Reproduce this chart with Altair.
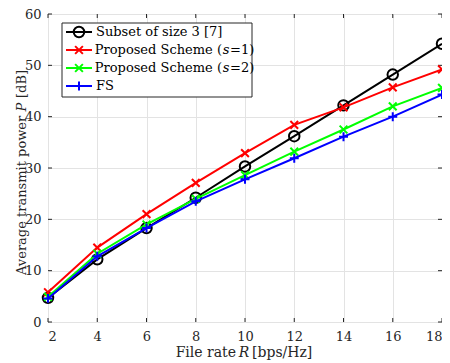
import altair as alt
import pandas as pd

rates = [2, 4, 6, 8, 10, 12, 14, 16, 18]
subset3 = [4.7, 12.2, 18.3, 24.2, 30.3, 36.2, 42.2, 48.2, 54.2]
prop_s1 = [5.8, 14.5, 21.0, 27.1, 32.9, 38.4, 41.8, 45.7, 49.2]
prop_s2 = [4.9, 13.3, 19.0, 24.0, 28.6, 33.2, 37.5, 42.0, 45.6]
fs_vals = [4.6, 12.8, 18.3, 23.5, 27.8, 31.9, 36.1, 40.0, 44.3]

series_names = ["Subset of size 3 [7]", "Proposed Scheme (s=1)", "Proposed Scheme (s=2)", "FS"]
series_vals = [subset3, prop_s1, prop_s2, fs_vals]
colors = ["#000000", "#ff0000", "#00ff00", "#0000ff"]
x_ticks = [2, 4, 6, 8, 10, 12, 14, 16, 18]
y_ticks = [0, 10, 20, 30, 40, 50, 60]

W, H = 394, 308
FONT = "DejaVu Serif"
TXT = "#262626"

XMARK = "M-1,-1L1,1M-1,1L1,-1"
PLUS = "M-1,0L1,0M0,-1L0,1"
shapes = ["circle", XMARK, XMARK, PLUS]
sizes = [110, 60, 60, 80]

xs = alt.Scale(domain=[2, 18], nice=False, zero=False)
ys = alt.Scale(domain=[0, 60], nice=False)

x_axis = alt.Axis(values=x_ticks, title=None, grid=True, gridColor="#e3e3e3", domain=False,
                  ticks=False, labelFont=FONT, labelFontSize=13, labelColor=TXT, labelPadding=8)
y_axis = alt.Axis(values=y_ticks, title=None, grid=True, gridColor="#e3e3e3", domain=False,
                  ticks=False, labelFont=FONT, labelFontSize=13, labelColor=TXT, labelPadding=7)

layers = []
# inner tick marks
tick_x = pd.DataFrame({"t": x_ticks})
tick_y = pd.DataFrame({"t": y_ticks})
layers.append(alt.Chart(tick_x).mark_rule(color=TXT, strokeWidth=1).encode(
    x=alt.X("t:Q", scale=xs, axis=x_axis), y=alt.value(H), y2=alt.value(H - 4)))
layers.append(alt.Chart(tick_x).mark_rule(color=TXT, strokeWidth=1).encode(
    x=alt.X("t:Q", scale=xs), y=alt.value(0), y2=alt.value(4)))
layers.append(alt.Chart(tick_y).mark_rule(color=TXT, strokeWidth=1).encode(
    y=alt.Y("t:Q", scale=ys, axis=y_axis), x=alt.value(0), x2=alt.value(4)))
layers.append(alt.Chart(tick_y).mark_rule(color=TXT, strokeWidth=1).encode(
    y=alt.Y("t:Q", scale=ys), x=alt.value(W), x2=alt.value(W - 4)))

for name, vals, col, shp, sz in zip(series_names, series_vals, colors, shapes, sizes):
    df = pd.DataFrame({"R": rates, "P": vals})
    base = alt.Chart(df).encode(x=alt.X("R:Q", scale=xs), y=alt.Y("P:Q", scale=ys))
    layers.append(base.mark_line(color=col, strokeWidth=2))
    layers.append(base.mark_point(shape=shp, size=sz, color=col, filled=False, strokeWidth=2, opacity=1))

one = alt.Data(values=[{}])


def txt(text, x, y, size=13, align="left", italic=False, angle=0, baseline="middle", color="#000"):
    kw = dict(text=text, font=FONT, fontSize=size, color=color, align=align, baseline=baseline)
    if italic:
        kw["fontStyle"] = "italic"
    if angle:
        kw["angle"] = angle
    return alt.Chart(one).mark_text(**kw).encode(x=alt.value(x), y=alt.value(y))


# legend box
layers.append(alt.Chart(one).mark_rect(fill="white", stroke=TXT, strokeWidth=1).encode(
    x=alt.value(14), x2=alt.value(204), y=alt.value(9), y2=alt.value(83)))
row_y = [18, 36, 54, 72]
for i, (name, col, shp, sz) in enumerate(zip(series_names, colors, shapes, sizes)):
    yy = row_y[i]
    layers.append(alt.Chart(one).mark_rule(color=col, strokeWidth=2).encode(
        x=alt.value(18), x2=alt.value(44), y=alt.value(yy)))
    layers.append(alt.Chart(one).mark_point(shape=shp, size=sz, color=col, filled=False,
                                            strokeWidth=2, opacity=1).encode(
        x=alt.value(31), y=alt.value(yy)))
    if "(s=" in name:
        pre, post = name.split("(s")
        layers.append(txt(pre + "(", 174, yy, align="right"))
        layers.append(txt("s", 178, yy, align="center", italic=True))
        layers.append(txt(post, 182, yy, align="left"))
    else:
        layers.append(txt(name, 48, yy))

# x title pieces
layers.append(txt("File rate", 188, 343, size=14, align="right", baseline="alphabetic", color=TXT))
layers.append(txt("R", 196, 343, size=14, align="center", italic=True, baseline="alphabetic", color=TXT))
layers.append(txt("[bps/Hz]", 204, 343, size=14, align="left", baseline="alphabetic", color=TXT))
# y title pieces
layers.append(txt("Average transmit power", -26, 261, size=13, align="left", angle=270, color=TXT))
layers.append(txt("P", -26, 93, size=13, align="center", italic=True, angle=270, color=TXT))
layers.append(txt("[dB]", -26, 84, size=13, align="left", angle=270, color=TXT))

chart = alt.layer(*layers).properties(
    width=W, height=H,
    autosize=alt.AutoSizeParams(type="none"),
    padding={"left": 40, "top": 6, "right": 0, "bottom": 41},
    background="white",
).configure_view(stroke=TXT, strokeWidth=1)

chart.save("out.html", embed_options={"renderer": "svg", "actions": False})
